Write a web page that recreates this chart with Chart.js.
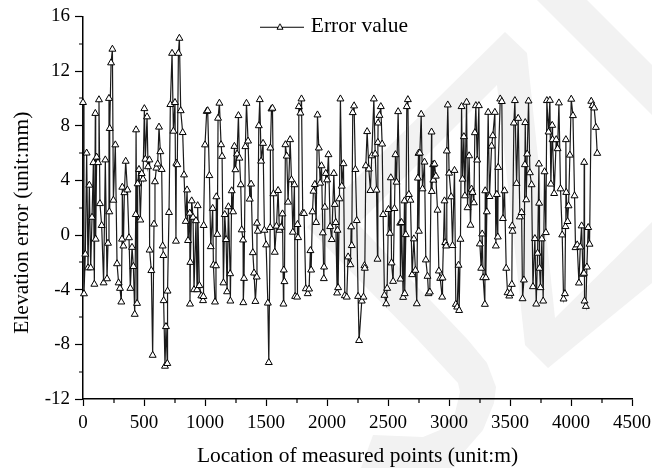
<!DOCTYPE html>
<html>
<head>
<meta charset="utf-8">
<title>Elevation error</title>
<script src="https://cdn.jsdelivr.net/npm/chart.js@4"></script>
<style>
html, body { margin: 0; padding: 0; background: #fff; }
canvas { display: block; }
</style>
</head>
<body>
<canvas id="chart" width="652" height="468"></canvas>
<script>
var locations = [
    0,8,19,30,41,52,63,74,85,93,
    101,104,112,123,131,139,153,169,183,197,
    205,213,216,219,230,241,249,265,279,292,
    303,314,320,322,331,339,350,364,377,388,
    402,413,424,432,435,443,448,459,470,481,
    492,503,511,525,533,544,546,560,571,582,
    590,601,612,623,634,645,653,659,661,672,
    680,691,693,705,716,730,741,754,762,765,
    773,782,790,801,817,828,842,853,861,875,
    877,880,891,902,910,926,935,940,954,970,
    984,987,989,1000,1014,1022,1036,1047,1063,1069,
    1082,1090,1093,1101,1107,1118,1132,1140,1151,1162,
    1173,1181,1192,1206,1208,1219,1230,1241,1249,1263,
    1274,1282,1293,1301,1312,1314,1320,1331,1340,1353,
    1367,1378,1392,1402,1413,1424,1426,1433,1441,1449,
    1460,1476,1487,1501,1515,1523,1534,1536,1545,1553,
    1561,1572,1586,1599,1610,1624,1635,1643,1646,1651,
    1659,1670,1681,1698,1709,1720,1733,1739,1755,1758,
    1763,1769,1782,1791,1801,1812,1826,1842,1853,1864,
    1870,1881,1889,1900,1911,1922,1933,1944,1955,1966,
    1974,1976,1982,1990,2001,2012,2026,2039,2056,2064,
    2072,2083,2086,2091,2102,2110,2121,2135,2146,2162,
    2173,2192,2198,2203,2211,2222,2233,2244,2255,2263,
    2285,2299,2307,2310,2318,2329,2343,2356,2367,2384,
    2395,2406,2414,2417,2419,2430,2441,2452,2460,2471,
    2485,2493,2504,2515,2523,2529,2542,2553,2561,2570,
    2583,2600,2602,2611,2624,2635,2637,2646,2654,2663,
    2671,2684,2698,2712,2725,2736,2745,2750,2753,2761,
    2772,2783,2799,2810,2824,2832,2843,2857,2859,2870,
    2872,2881,2892,2906,2917,2928,2944,2947,2963,2969,
    2977,2982,2990,3001,3018,3029,3045,3056,3067,3078,
    3083,3094,3103,3111,3122,3130,3144,3152,3165,3176,
    3185,3193,3204,3212,3220,3231,3245,3253,3264,3272,
    3280,3294,3297,3302,3310,3321,3332,3349,3359,3376,
    3384,3392,3400,3403,3420,3433,3442,3455,3469,3480,
    3494,3504,3515,3518,3521,3532,3540,3554,3567,3581,
    3595,3603,3614,3622,3625,3633,3641,3652,3663,3677,
    3688,3704,3715,3726,3737,3739,3742,3750,3761,3772,
    3783,3794,3802,3816,3827,3835,3846,3849,3862,3879,
    3890,3901,3914,3928,3939,3950,3955,3958,3961,3972,
    3980,3991,4002,4016,4029,4037,4051,4065,4076,4087,
    4098,4106,4108,4111,4122,4130,4141,4152,4166,4177,
    4190,4204,4215
];

var errorValues = [
    9.7,-4.3,-1.4,6.0,-2.4,3.65,-2.4,1.3,5.3,-3.6,
    8.9,-0.3,5.7,5.3,9.9,2.3,0.7,-3.5,5.5,-3.2,
    -0.6,10,1.7,7.8,12.6,13.6,2.55,6.6,-2.1,-3.5,
    -3.9,-4.9,-0.3,3.5,-0.8,3.1,5.4,3.3,-0.2,-3.9,
    -0.9,-2.3,-5.8,1.5,7.7,-5,3.75,4.8,1.1,4.5,
    4.1,9.25,5.55,8.65,5,5.5,-1.1,-2.6,-8.8,0.8,
    3.9,4.9,5.2,7.9,6.1,4.8,-0.8,-1.5,-4.8,-9.6,
    -6.7,-9.4,-4.1,1.65,9.55,13.3,7.6,9.7,-0.45,5.25,
    5.15,13.3,14.4,9.1,7.5,4.4,1.0,3.3,-0.4,1.6,
    -5.05,-2,2.5,1.3,-4,1.05,-4,2.15,-3.7,-4.45,
    -4.8,-4.5,0.7,6.6,9.05,9.1,4.35,-0.85,1.95,-2.2,
    -4.9,-2.25,2.8,0.05,8.55,9.65,6.61,5.76,-3.5,1.5,
    -0.33,-4.15,2.07,-2.83,-4.83,3.24,1.7,6.49,4.78,5.93,
    8.74,5.63,3.68,0.38,-0.36,-4.95,-3.17,6.47,9.64,6.88,
    2.63,3.73,-1.29,-2.78,-4.86,-3.07,0.87,0.28,8.0,9.91,
    5.41,6.71,0.35,-0.72,-4.98,-9.33,0.55,6.37,9.23,9.28,
    3.02,-1.26,0.65,3.26,0.35,0.57,1.55,-5.05,-2.56,-3.41,
    6.61,5.78,2.41,6.98,4.04,0.21,3.68,-4.49,-4.54,0.77,
    -0.19,9.4,8.93,9.96,1.6,1.58,-3.93,-4.29,-3.95,-1.14,
    -2.56,1.7,3.21,3.7,0.92,8.79,6.37,3.8,5.07,0.16,
    -3.19,-2.34,2.04,4.51,4.04,5.88,0.62,-0.33,4.51,2.24,
    0.92,-4.24,0.35,-3.85,2.65,9.96,3.58,5.22,-4.44,-4.54,
    -1.6,-2.17,0.6,-0.77,8.96,9.45,4.8,1.06,-4.49,-7.72,
    -4.83,-4.54,-2.24,-2.43,5.07,7.57,4.83,3.26,5.8,9.96,
    5.93,3.29,-1.77,6.78,8.2,8.76,9.4,6.66,1.5,-4.41,
    -5.03,-3.9,1.87,0.13,4.19,-2.04,-3.39,1.94,5.88,3.87,
    9.03,0.87,-3.22,0.92,-4.56,2.5,-4.29,0.03,9.4,9.91,
    2.97,2.55,-2.9,-0.28,-2.58,-5.03,4.17,5.98,0.28,6.0,
    8.84,3.38,5.34,-1.82,-3.02,-4.29,-4.17,7.54,3.19,5.15,
    4.02,5.2,4.31,1.82,-2.63,-3.17,-4.54,-3.14,2.5,-0.55,
    -0.8,6.15,9.52,4.53,2.8,-0.77,4.73,-5.07,-5.27,-2.21,
    -5.52,-0.31,9.4,4.09,7.2,2.87,9.72,2.0,5.8,0.72,
    3.36,3.12,2.36,7.49,9.47,5.49,9.47,-0.65,-2.43,0.08,
    -3.12,-5.07,3.24,-3.12,1.7,8.98,2.82,6.51,7.27,8.98,
    -0.8,2.97,-0.14,4.95,9.96,9.77,1.21,3.24,-2.43,-4.22,
    -4.46,-4.27,-3.61,0.67,0.28,8.2,9.84,3.78,8.54,1.33,
    1.65,-4.66,-3.29,5.15,8.23,2.58,5.93,9.81,4.56,3.68,
    -3.78,-0.26,-5.05,-1.33,5.2,2.33,-2.43,-3.85,-0.28,-4.83,
    4.63,0.18,9.84,7.54,9.86,3.73,8.03,6.98,3.04,6.98,
    6.32,9.67,3.38,0.01,-4.68,-4.29,0.62,6.98,3.12,0.99,
    2.14,5.85,9.94,8.74,2.87,-0.92,-0.72,-3.51,-0.87,0.67,
    -2.87,-2.8,5.32,-4.83,-5.22,-2.34,0.55,-0.67,9.79,9.47,
    9.3,7.88,5.98
];

if (locations.length !== errorValues.length) throw new Error('length mismatch');

var minorX = [250, 750, 1250, 1750, 2250, 2750, 3250, 3750, 4250];
var minorY = [14, 10, 6, 2, -2, -6, -10];

var serif = 'Liberation Serif';

// grey watermark behind the plot
var bandA = [[505,32],[527,53],[555,318],[652,222],[652,283],[548,368],[525,345],[497,85],[358,224],
    [468,340],[487,363],[496,387],[494,403],[483,430],[463,453],[452,468],[361,468],[373,435],
    [423,437],[440,430],[455,413],[460,392],[458,383],[418,340],[307,227]];
var bandB = [[537,0],[587,0],[652,65],[652,115]];

var watermark = {
    id: 'watermark',
    beforeDraw: function (chart) {
        var c = chart.ctx;
        c.save();
        c.fillStyle = '#fff';
        c.fillRect(0, 0, chart.width, chart.height);
        c.fillStyle = '#f2f2f2';
        [bandA, bandB].forEach(function (poly) {
            c.beginPath();
            poly.forEach(function (p, i) { i ? c.lineTo(p[0], p[1]) : c.moveTo(p[0], p[1]); });
            c.closePath();
            c.fill();
        });
        c.restore();
    }
};

// short ticks between the labelled ones
var minorTicks = {
    id: 'minorTicks',
    afterDraw: function (chart) {
        var c = chart.ctx, xs = chart.scales.x, ys = chart.scales.y;
        c.save();
        c.strokeStyle = '#000';
        c.lineWidth = 1.2;
        c.beginPath();
        minorX.forEach(function (v) {
            var px = Math.round(xs.getPixelForValue(v));
            c.moveTo(px, xs.top);
            c.lineTo(px, xs.top + 4);
        });
        minorY.forEach(function (v) {
            var py = Math.round(ys.getPixelForValue(v));
            c.moveTo(ys.right, py);
            c.lineTo(ys.right - 4, py);
        });
        c.stroke();
        c.restore();
    }
};

// legend glyph: line with the marker on it
function legendGlyph() {
    var cv = document.createElement('canvas');
    cv.width = 48;
    cv.height = 10;
    var g = cv.getContext('2d');
    g.strokeStyle = '#000';
    g.lineWidth = 1;
    g.beginPath();
    g.moveTo(0, 5.5);
    g.lineTo(48, 5.5);
    g.stroke();
    g.fillStyle = '#fff';
    g.beginPath();
    g.moveTo(24, 2);
    g.lineTo(27, 7.5);
    g.lineTo(21, 7.5);
    g.closePath();
    g.fill();
    g.stroke();
    return cv;
}

var placeLegend = {
    id: 'placeLegend',
    afterLayout: function (chart) {
        var l = chart.legend;
        l.left = 260;
        l.top = 16;
        l.right = l.left + l.width;
        l.bottom = l.top + l.height;

        // the y title sits a little below the middle of the axis
        var ys = chart.scales.y, drawTitle = ys.drawTitle;
        ys.drawTitle = function () {
            chart.ctx.save();
            chart.ctx.translate(0, 15);
            drawTitle.call(ys);
            chart.ctx.restore();
        };
    }
};

var ctx = document.getElementById('chart').getContext('2d');

var chart = new Chart(ctx, {
    type: 'line',
    data: {
        datasets: [{
            label: 'Error value',
            data: locations.map(function (x, i) { return { x: x, y: errorValues[i] }; }),
            borderColor: '#1a1a1a',
            borderWidth: 1.2,
            tension: 0,
            pointStyle: 'triangle',
            pointRadius: 4,
            pointBackgroundColor: '#fff',
            pointBorderColor: '#000',
            pointBorderWidth: 1,
            clip: false
        }]
    },
    plugins: [watermark, minorTicks, placeLegend],
    options: {
        responsive: false,
        animation: false,
        layout: { padding: { top: 16, right: 20, left: 0, bottom: 0 } },
        plugins: {
            tooltip: { enabled: false },
            legend: {
                position: 'chartArea',
                align: 'start',
                labels: {
                    usePointStyle: true,
                    pointStyle: legendGlyph(),
                    pointStyleWidth: 40,
                    padding: 0,
                    color: '#000',
                    font: { family: serif, size: 21.5 }
                }
            }
        },
        scales: {
            x: {
                type: 'linear',
                min: 0,
                max: 4500,
                afterFit: function (s) { s.height = 69; s.paddingRight = 20; },
                border: { color: '#000', width: 1.5 },
                grid: { drawOnChartArea: false, tickLength: 7, tickColor: '#000', tickWidth: 1.2 },
                ticks: {
                    stepSize: 500,
                    maxRotation: 0,
                    autoSkip: false,
                    padding: 6,
                    color: '#000',
                    font: { family: serif, size: 19 },
                    callback: function (v) { return String(v); }
                },
                title: {
                    display: true,
                    text: 'Location of measured points (unit:m)',
                    color: '#000',
                    font: { family: serif, size: 21.5 },
                    padding: { top: 0, bottom: -1 }
                }
            },
            y: {
                min: -12,
                max: 16,
                afterFit: function (s) { s.width = 83; },
                border: { color: '#000', width: 1.5 },
                grid: { drawOnChartArea: false, tickLength: 8, tickColor: '#000', tickWidth: 1.2 },
                ticks: {
                    stepSize: 4,
                    autoSkip: false,
                    padding: 5,
                    color: '#000',
                    font: { family: serif, size: 19 }
                },
                title: {
                    display: true,
                    text: 'Elevation error (unit:mm)',
                    color: '#000',
                    font: { family: serif, size: 21.5 },
                    padding: { top: 9, bottom: 0 }
                }
            }
        }
    }
});
</script>
</body>
</html>
